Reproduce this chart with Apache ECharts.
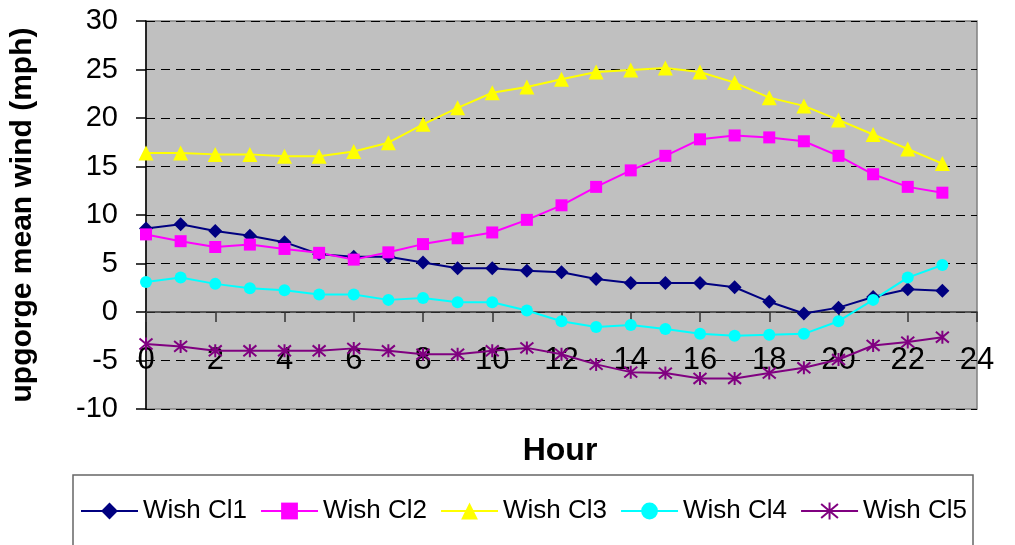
<!DOCTYPE html>
<html>
<head>
<meta charset="utf-8">
<script src="https://cdn.jsdelivr.net/npm/echarts@6/dist/echarts.min.js"></script>
<style>
html,body{margin:0;padding:0;background:#fff;}
#chart{width:1015px;height:545px;}
</style>
</head>
<body>
<div id="chart"></div>
<script>
const hours = [0,1,2,3,4,5,6,7,8,9,10,11,12,13,14,15,16,17,18,19,20,21,22,23];
const xTicks = [0,2,4,6,8,10,12,14,16,18,20,22,24];
const yTicks = [-10,-5,0,5,10,15,20,25,30];
const cl1 = [8.6,9.05,8.35,7.85,7.2,5.95,5.7,5.7,5.1,4.5,4.5,4.25,4.1,3.4,3.0,3.0,3.0,2.55,1.05,-0.15,0.45,1.55,2.35,2.2];
const cl2 = [8.0,7.3,6.7,6.95,6.5,6.1,5.4,6.15,7.0,7.6,8.2,9.5,11.0,12.9,14.6,16.1,17.8,18.2,18.0,17.6,16.1,14.2,12.9,12.3];
const cl3 = [16.4,16.4,16.25,16.25,16.05,16.05,16.55,17.45,19.35,21.05,22.6,23.2,24.0,24.75,24.95,25.15,24.75,23.65,22.1,21.25,19.8,18.3,16.8,15.3];
const cl4 = [3.1,3.55,2.9,2.45,2.25,1.8,1.8,1.25,1.45,1.0,1.0,0.15,-0.95,-1.55,-1.35,-1.75,-2.25,-2.45,-2.35,-2.25,-0.95,1.25,3.55,4.85];
const cl5 = [-3.3,-3.55,-4.0,-4.0,-4.0,-4.0,-3.75,-4.0,-4.35,-4.35,-4.0,-3.7,-4.35,-5.4,-6.2,-6.3,-6.85,-6.85,-6.3,-5.75,-4.9,-3.45,-3.1,-2.6];
const names = ['Wish Cl1','Wish Cl2','Wish Cl3','Wish Cl4','Wish Cl5'];
const colors = ['#000080','#FF00FF','#FFFF00','#00FFFF','#800080'];

const FONT = '"Liberation Sans", Arial, sans-serif';
const asterisk = 'path://M0,0L10,10M10,0L0,10M5,-1L5,11';

function mk(name, vals, color, symbol, size, extra) {
  return Object.assign({
    name: name,
    type: 'line',
    data: hours.map((h, i) => [h, vals[i]]),
    symbol: symbol,
    symbolSize: size,
    showAllSymbol: true,
    lineStyle: {color: color, width: 2},
    itemStyle: {color: color},
    emphasis: {disabled: true},
    animation: false
  }, extra || {});
}

const GRID_TOP = 21, GRID_H = 388;
const chart = echarts.init(document.getElementById('chart'), null, {renderer: 'canvas'});
chart.setOption({
  backgroundColor: '#ffffff',
  animation: false,
  grid: {
    left: 143, top: GRID_TOP, width: 834, height: GRID_H,
    show: true, backgroundColor: '#C0C0C0', borderColor: '#808080', borderWidth: 1.5
  },
  xAxis: {
    type: 'value', min: xTicks[0], max: xTicks[xTicks.length - 1], interval: 2,
    position: 'bottom', offset: 0,
    axisLine: {onZero: false, lineStyle: {color: '#333333', width: 1.5}},
    axisTick: {show: true, inside: false, length: 10, lineStyle: {color: '#333333', width: 1.5}},
    axisLabel: {margin: 33, fontSize: 31, color: '#000', fontFamily: FONT},
    splitLine: {show: false}
  },
  yAxis: {
    type: 'value', min: yTicks[0], max: yTicks[yTicks.length - 1], interval: 5,
    name: 'upgorge mean wind (mph)', nameLocation: 'middle', nameGap: 108, nameRotate: 90,
    nameTextStyle: {fontSize: 30, fontWeight: 'bold', color: '#000', fontFamily: FONT},
    axisLine: {show: true, lineStyle: {color: '#000', width: 1.5}},
    axisTick: {show: true, inside: false, length: 10, lineStyle: {color: '#000', width: 1.5}},
    axisLabel: {margin: 28, fontSize: 29, color: '#000', fontFamily: FONT},
    splitLine: {show: true, lineStyle: {color: '#000', width: 1, type: [9, 6]}}
  },
  legend: {
    left: 80, top: 498, padding: 0, itemWidth: 57, itemHeight: 21, itemGap: 13,
    textStyle: {fontSize: 26, color: '#000', fontFamily: FONT},
    data: names
  },
  graphic: [
    {type: 'rect', shape: {x: 73, y: 475, width: 900, height: 100},
     style: {fill: 'none', stroke: '#666666', lineWidth: 1.5}, silent: true},
    {type: 'text', x: 560, y: 451,
     style: {text: 'Hour', font: 'bold 32px ' + FONT, fill: '#000', align: 'center', verticalAlign: 'middle'}, silent: true}
  ],
  series: [
    mk(names[0], cl1, colors[0], 'diamond', 14),
    mk(names[1], cl2, colors[1], 'rect', 12),
    mk(names[2], cl3, colors[2], 'triangle', 15),
    mk(names[3], cl4, colors[3], 'circle', 12),
    mk(names[4], cl5, colors[4], asterisk, 13, {itemStyle: {color: 'rgba(0,0,0,0)', borderColor: colors[4], borderWidth: 2}})
  ]
});
// place the hour axis line at y = 0, as in the reference
const zeroY = chart.convertToPixel({yAxisIndex: 0}, 0);
chart.setOption({xAxis: {offset: -((GRID_TOP + GRID_H) - zeroY)}});
</script>
</body>
</html>
